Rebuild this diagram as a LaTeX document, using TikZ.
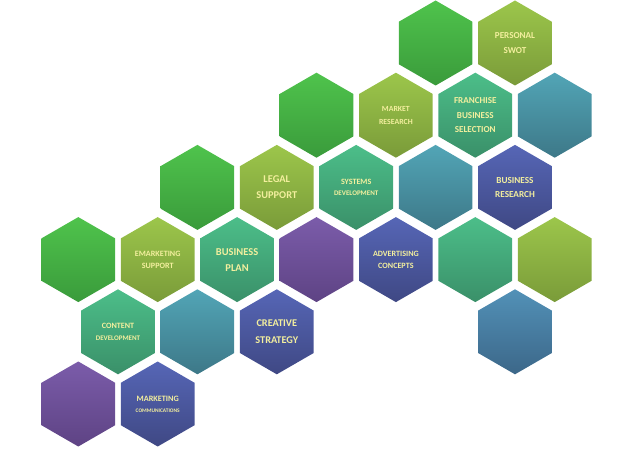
\documentclass[tikz,border=0pt]{standalone}
\usepackage{fontspec}
\setmainfont{Carlito}
\usetikzlibrary{shapes.geometric}

\definecolor{greentop}{HTML}{4FC34C}
\definecolor{greenbot}{HTML}{3A9B3B}
\definecolor{limetop}{HTML}{9CC64B}
\definecolor{limebot}{HTML}{7A9B39}
\definecolor{tealtop}{HTML}{4CBE89}
\definecolor{tealbot}{HTML}{3A9069}
\definecolor{cyantop}{HTML}{52A5B6}
\definecolor{cyanbot}{HTML}{3D7888}
\definecolor{bluetop}{HTML}{5666B6}
\definecolor{bluebot}{HTML}{3F4884}
\definecolor{purpletop}{HTML}{7B5CAA}
\definecolor{purplebot}{HTML}{5E4384}
\definecolor{steeltop}{HTML}{5291B7}
\definecolor{steelbot}{HTML}{3C6789}
\definecolor{hextext}{HTML}{F3EF9E}

\newcommand{\fs}[2]{\fontsize{#1}{#2}\selectfont}

\begin{document}
\begin{tikzpicture}
                [x=39.7pt, y=-72.2pt,
                hexcell/.style={regular polygon, regular polygon sides=6,
                  shape border rotate=30, minimum size=85pt, inner sep=0pt,
                  text=hextext, align=center},
                size/.style 2 args={font=\bfseries\fs{#1}{#2}},
                greencell/.style={hexcell, top color=greentop, bottom color=greenbot},
                limecell/.style={hexcell, top color=limetop, bottom color=limebot},
                tealcell/.style={hexcell, top color=tealtop, bottom color=tealbot},
                cyancell/.style={hexcell, top color=cyantop, bottom color=cyanbot},
                bluecell/.style={hexcell, top color=bluetop, bottom color=bluebot},
                purplecell/.style={hexcell, top color=purpletop, bottom color=purplebot},
                steelcell/.style={hexcell, top color=steeltop, bottom color=steelbot}]
                \useasboundingbox (-78.3pt,43pt) rectangle (545.7pt,-406pt);
                % row 1
                \node[greencell] (green1) at (9,0) { };
                \node[limecell, size={9.1}{14.3}] (swot) at (11,0) {PERSONAL\\SWOT};
                % row 2
                \node[greencell] (green2) at (6,1) { };
                \node[limecell, size={7.8}{12.7}] (market) at (8,1) {MARKET\\RESEARCH};
                \node[tealcell, size={9.1}{14.5}] (franchise) at (10,1) {FRANCHISE\\BUSINESS\\SELECTION};
                \node[cyancell] (cyan1) at (12,1) { };
                % row 3
                \node[greencell] (green3) at (3,2) { };
                \node[limecell, size={10.4}{16}] (legal) at (5,2) {LEGAL\\SUPPORT};
                \node[tealcell, size={7}{11.7}] (systems) at (7,2) {\fs{8.1}{11.7}SYSTEMS\\DEVELOPMENT};
                \node[cyancell] (cyan2) at (9,2) { };
                \node[bluecell, size={9.2}{14}] (research) at (11,2) {BUSINESS\\RESEARCH};
                % row 4
                \node[greencell] (green4) at (0,3) { };
                \node[limecell, size={8.1}{12}] (emarketing) at (2,3) {EMARKETING\\SUPPORT};
                \node[tealcell, size={10.5}{16}] (plan) at (4,3) {BUSINESS\\PLAN};
                \node[purplecell] (purple1) at (6,3) { };
                \node[bluecell, size={8.1}{11.7}] (advertising) at (8,3) {ADVERTISING\\CONCEPTS};
                \node[tealcell] (teal1) at (10,3) { };
                \node[limecell] (lime1) at (12,3) { };
                % row 5
                \node[tealcell, size={7}{12}] (content) at (1,4) {\fs{8.1}{12}CONTENT\\DEVELOPMENT};
                \node[cyancell] (cyan3) at (3,4) { };
                \node[bluecell, size={10.3}{16.7}] (creative) at (5,4) {CREATIVE\\STRATEGY};
                \node[steelcell] (steel1) at (11,4) { };
                % row 6
                \node[purplecell] (purple2) at (0,5) { };
                \node[bluecell, size={5.4}{11}] (communications) at (2,5) {\fs{8.2}{11}MARKETING\\COMMUNICATIONS};
            \end{tikzpicture}
\end{document}
